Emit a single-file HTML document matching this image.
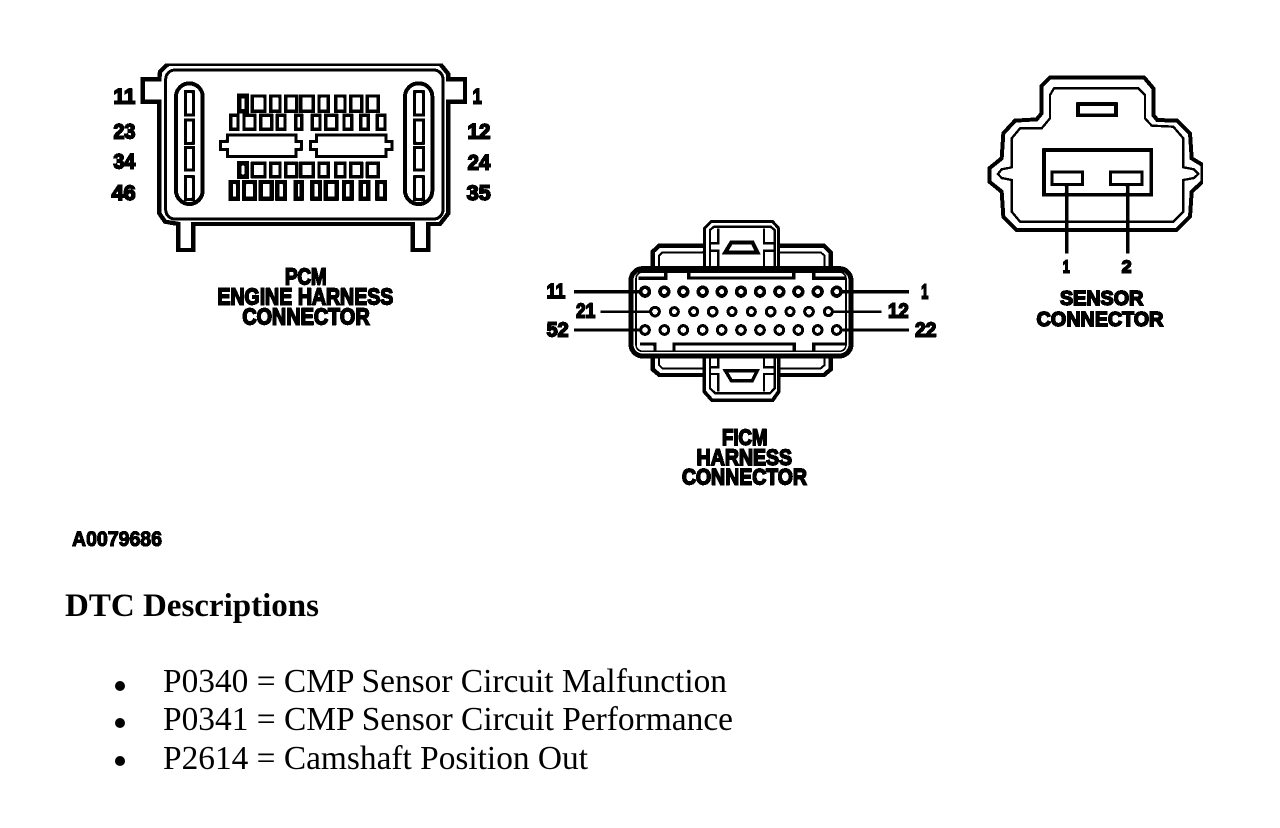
<!DOCTYPE html>
<html><head><meta charset="utf-8"><title>Connector diagram</title>
<style>
html,body{margin:0;padding:0;background:#fff;width:1280px;height:828px;overflow:hidden}
svg{display:block}
.l{font-family:"Liberation Sans",sans-serif;font-weight:bold;fill:#000;stroke:#000;stroke-width:5}
.s{fill:none;stroke:#000;stroke-linejoin:miter}
.t{font-family:"Liberation Serif",serif;fill:#000;font-size:33.3px}
</style></head><body>
<svg width="1280" height="828" viewBox="0 0 1280 828" xmlns="http://www.w3.org/2000/svg">
<defs><filter id="a" x="0" y="0" width="1" height="1" filterUnits="objectBoundingBox" color-interpolation-filters="sRGB"><feComponentTransfer><feFuncA type="discrete" tableValues="0 1"/></feComponentTransfer></filter></defs>
<rect width="1280" height="828" fill="#fff"/>

<g filter="url(#a)">
<!-- PCM -->
<g transform="translate(100 50) scale(.33333)">
<path class="s" stroke-width="13" d="M205,41 L1020,41 L1045,72 L1045,88 L1095,88 L1095,155 L1045,155 L1045,490 L1020,522 L985,522 L985,600 L938,600 L938,522 L280,522 L280,600 L235,600 L235,522 L195,515 L178,490 L178,155 L128,155 L128,88 L178,88 L180,65 Z"/>
<rect class="s" stroke-width="9" x="197" y="60" width="832" height="447" rx="28"/>
<rect class="s" stroke-width="12" x="228" y="100" width="80" height="362" rx="40"/>
<rect class="s" stroke-width="12" x="915" y="100" width="82" height="362" rx="40"/>
<g class="s" stroke-width="9">
<rect x="256" y="125" width="24" height="70"/><rect x="256" y="210" width="24" height="70"/><rect x="256" y="292" width="24" height="68"/><rect x="256" y="380" width="24" height="68"/>
<rect x="944" y="125" width="26" height="70"/><rect x="944" y="210" width="26" height="70"/><rect x="944" y="292" width="26" height="68"/><rect x="944" y="380" width="26" height="68"/>
</g>
<g class="s" stroke-width="10">
<rect x="418" y="138" width="22" height="46" stroke-width="14"/><rect x="457" y="138" width="38" height="46"/><rect x="512" y="138" width="28" height="46"/><rect x="557" y="138" width="33" height="46"/><rect x="602" y="138" width="38" height="46"/><rect x="657" y="138" width="28" height="46"/><rect x="707" y="138" width="28" height="46"/><rect x="752" y="138" width="33" height="46"/><rect x="802" y="138" width="33" height="46"/>
<rect x="392" y="196" width="22" height="42"/><rect x="432" y="196" width="33" height="42"/><rect x="482" y="196" width="33" height="42"/><rect x="532" y="196" width="23" height="42"/><rect x="587" y="196" width="18" height="42"/><rect x="637" y="196" width="23" height="42"/><rect x="677" y="196" width="33" height="42"/><rect x="732" y="196" width="23" height="42"/><rect x="782" y="196" width="23" height="42"/><rect x="832" y="196" width="23" height="42"/>
<rect x="418" y="340" width="22" height="40" stroke-width="14"/><rect x="457" y="340" width="38" height="40"/><rect x="512" y="340" width="28" height="40"/><rect x="557" y="340" width="33" height="40"/><rect x="602" y="340" width="38" height="40"/><rect x="657" y="340" width="28" height="40"/><rect x="707" y="340" width="28" height="40"/><rect x="752" y="340" width="33" height="40"/><rect x="802" y="340" width="33" height="40"/>
</g>
<g class="s" stroke-width="13">
<rect x="392" y="396" width="22" height="50"/><rect x="432" y="396" width="33" height="50"/><rect x="482" y="396" width="33" height="50"/><rect x="532" y="396" width="23" height="50"/><rect x="587" y="396" width="18" height="50"/><rect x="637" y="396" width="23" height="50"/><rect x="677" y="396" width="33" height="50"/><rect x="732" y="396" width="23" height="50"/><rect x="782" y="396" width="23" height="50"/><rect x="832" y="396" width="23" height="50"/>
</g>
<path class="s" stroke-width="9" d="M382,255 L588,255 L588,274 L604,274 L604,298 L588,298 L588,320 L382,320 L382,298 L362,298 L362,274 L382,274 Z"/>
<path class="s" stroke-width="9" d="M650,255 L858,255 L858,274 L876,274 L876,298 L858,298 L858,320 L650,320 L650,298 L632,298 L632,274 L650,274 Z"/>
<g class="l" font-size="64">
<text x="40" y="160" textLength="66" lengthAdjust="spacingAndGlyphs">11</text>
<text x="40" y="265" textLength="66" lengthAdjust="spacingAndGlyphs">23</text>
<text x="40" y="355" textLength="66" lengthAdjust="spacingAndGlyphs">34</text>
<text x="35" y="450" textLength="72" lengthAdjust="spacingAndGlyphs">46</text>
<text x="1118" y="160" textLength="28" lengthAdjust="spacingAndGlyphs">1</text>
<text x="1103" y="265" textLength="68" lengthAdjust="spacingAndGlyphs">12</text>
<text x="1103" y="358" textLength="68" lengthAdjust="spacingAndGlyphs">24</text>
<text x="1100" y="450" textLength="72" lengthAdjust="spacingAndGlyphs">35</text>
</g>
<g class="l" font-size="68">
<text x="555" y="704" textLength="125" lengthAdjust="spacingAndGlyphs">PCM</text>
<text x="352" y="764" textLength="528" lengthAdjust="spacingAndGlyphs">ENGINE HARNESS</text>
<text x="427" y="824" textLength="382" lengthAdjust="spacingAndGlyphs">CONNECTOR</text>
</g>
</g>

<!-- FICM -->
<g transform="translate(530 210) scale(.33333)">
<rect class="s" stroke-width="15" x="303" y="176" width="660" height="262" rx="35"/>
<rect class="s" stroke-width="5" x="318" y="186" width="630" height="238" rx="20"/>
<path class="s" stroke-width="10" d="M325,205 L407,205 L407,184 M476,184 L476,204 L791,204 L791,184 M851,184 L851,205 L945,205"/>
<path class="s" stroke-width="10" d="M330,402 L375,402 L375,422 M432,422 L432,402 L793,402 L793,422 M851,422 L851,402 L945,402"/>
<path class="s" stroke-width="13" d="M368,170 L368,125 L388,107 L522,107 M748,107 L882,107 L902,127 L902,170"/>
<path class="s" stroke-width="6" d="M387,170 L387,137 L397,127 L522,127 M748,127 L872,127 L884,137 L884,170"/>
<path class="s" stroke-width="9" d="M523,170 L523,55 L543,35 L728,35 L746,55 L746,170"/>
<path class="s" stroke-width="7" d="M540,170 L540,60 L552,50 L722,50 L734,60 L734,170 M565,55 L565,100 L540,100 M565,170 L565,122 L540,122 M702,55 L702,100 L734,100 M702,170 L702,122 L734,122"/>
<path fill="none" stroke="#000" stroke-width="12" d="M586,127 L604,97 L667,97 L682,127 Z"/>
<path class="s" stroke-width="13" d="M368,440 L368,478 L388,495 L522,495 M748,495 L882,495 L902,478 L902,440"/>
<path class="s" stroke-width="6" d="M387,440 L387,465 L397,475 L522,475 M748,475 L872,475 L884,465 L884,440"/>
<path class="s" stroke-width="11" d="M523,440 L523,545 L546,571 L728,571 L746,545 L746,440"/>
<path class="s" stroke-width="7" d="M540,440 L540,535 L556,550 L720,550 L734,535 L734,440 M565,440 L565,472 L540,472 M565,545 L565,492 L540,492 M702,440 L702,472 L734,472 M702,545 L702,492 L734,492"/>
<path fill="none" stroke="#000" stroke-width="10" d="M586,482 L682,482 L667,512 L604,512 Z"/>
<g fill="none" stroke="#000" stroke-width="11">
<circle cx="345" cy="245" r="13"/><circle cx="403" cy="245" r="13"/><circle cx="460" cy="245" r="13"/><circle cx="518" cy="245" r="13"/><circle cx="575" cy="245" r="13"/><circle cx="633" cy="245" r="13"/><circle cx="690" cy="245" r="13"/><circle cx="748" cy="245" r="13"/><circle cx="805" cy="245" r="13"/><circle cx="863" cy="245" r="13"/><circle cx="920" cy="245" r="13"/>
</g>
<g fill="none" stroke="#000" stroke-width="9">
<circle cx="375" cy="305" r="13"/><circle cx="433" cy="305" r="12"/><circle cx="491" cy="305" r="12"/><circle cx="548" cy="305" r="13"/><circle cx="606" cy="305" r="12"/><circle cx="664" cy="305" r="12"/><circle cx="722" cy="305" r="13"/><circle cx="780" cy="305" r="12"/><circle cx="837" cy="305" r="13"/><circle cx="895" cy="305" r="12"/>
<circle cx="345" cy="360" r="13"/><circle cx="403" cy="360" r="13"/><circle cx="460" cy="360" r="13"/><circle cx="518" cy="360" r="13"/><circle cx="575" cy="360" r="13"/><circle cx="633" cy="360" r="13"/><circle cx="690" cy="360" r="13"/><circle cx="748" cy="360" r="13"/><circle cx="805" cy="360" r="13"/><circle cx="863" cy="360" r="13"/><circle cx="920" cy="360" r="13"/>
</g>
<path class="s" stroke-width="11" d="M132,245 L332,245 M932,245 L1137,245"/>
<path class="s" stroke-width="8" d="M212,305 L362,305 M908,305 L1055,305 M132,360 L332,360 M932,360 L1137,360"/>
<g class="l" font-size="62">
<text x="50" y="264" textLength="56" lengthAdjust="spacingAndGlyphs">11</text>
<text x="1173" y="266" textLength="22" lengthAdjust="spacingAndGlyphs">1</text>
<text x="138" y="322" textLength="58" lengthAdjust="spacingAndGlyphs">21</text>
<text x="1074" y="322" textLength="62" lengthAdjust="spacingAndGlyphs">12</text>
<text x="50" y="380" textLength="66" lengthAdjust="spacingAndGlyphs">52</text>
<text x="1155" y="380" textLength="64" lengthAdjust="spacingAndGlyphs">22</text>
</g>
<g class="l" font-size="66">
<text x="576" y="705" textLength="136" lengthAdjust="spacingAndGlyphs">FICM</text>
<text x="500" y="765" textLength="286" lengthAdjust="spacingAndGlyphs">HARNESS</text>
<text x="456" y="824" textLength="375" lengthAdjust="spacingAndGlyphs">CONNECTOR</text>
</g>
</g>

<!-- Sensor -->
<g transform="translate(970 60) scale(.33333)">
<path class="s" stroke-width="12" stroke-linejoin="round" d="M240,52 L522,52 L550,85 L550,165 L562,180 L622,182 L660,220 L665,295 L698,315 L698,365 L665,395 L660,470 L620,510 L140,510 L100,470 L95,395 L58,365 L58,325 L95,295 L100,220 L135,182 L200,178 L215,160 L215,78 Z"/>
<path class="s" stroke-width="7" stroke-linejoin="round" d="M252,85 L505,85 L525,105 L525,175 L545,197 L610,200 L640,235 L640,322 L672,328 L685,342 L672,354 L640,360 L640,455 L610,485 L150,485 L125,455 L125,360 L95,354 L84,342 L95,328 L125,322 L125,235 L150,205 L215,205 L240,175 L240,105 Z"/>
<rect class="s" stroke-width="11" x="324" y="132" width="114" height="34"/>
<rect class="s" stroke-width="11" x="222" y="270" width="322" height="134"/>
<rect class="s" stroke-width="9" x="246" y="336" width="92" height="38"/>
<rect class="s" stroke-width="9" x="422" y="336" width="94" height="38"/>
<path class="s" stroke-width="11" d="M290,375 L290,580 M473,375 L473,580"/>
<g class="l" font-size="54">
<text x="278" y="637" textLength="22" lengthAdjust="spacingAndGlyphs">1</text>
<text x="455" y="637" textLength="30" lengthAdjust="spacingAndGlyphs">2</text>
</g>
<g class="l" font-size="62">
<text x="270" y="735" textLength="250" lengthAdjust="spacingAndGlyphs">SENSOR</text>
<text x="200" y="798" textLength="380" lengthAdjust="spacingAndGlyphs">CONNECTOR</text>
</g>
</g>

<text x="72" y="546" font-family="'Liberation Sans',sans-serif" font-weight="bold" font-size="21" stroke="#000" stroke-width="1.2" textLength="90" lengthAdjust="spacingAndGlyphs">A0079686</text>
</g>

<text x="65" y="616" font-family="'Liberation Serif',serif" font-weight="bold" font-size="33" textLength="254" lengthAdjust="spacingAndGlyphs">DTC Descriptions</text>
<circle cx="120" cy="686" r="5"/><circle cx="120" cy="723" r="5"/><circle cx="120" cy="761" r="5"/>
<text class="t" x="163" y="692" textLength="564" lengthAdjust="spacingAndGlyphs">P0340 = CMP Sensor Circuit Malfunction</text>
<text class="t" x="163" y="730" textLength="570" lengthAdjust="spacingAndGlyphs">P0341 = CMP Sensor Circuit Performance</text>
<text class="t" x="163" y="769" textLength="425" lengthAdjust="spacingAndGlyphs">P2614 = Camshaft Position Out</text>
</svg>
</body></html>
